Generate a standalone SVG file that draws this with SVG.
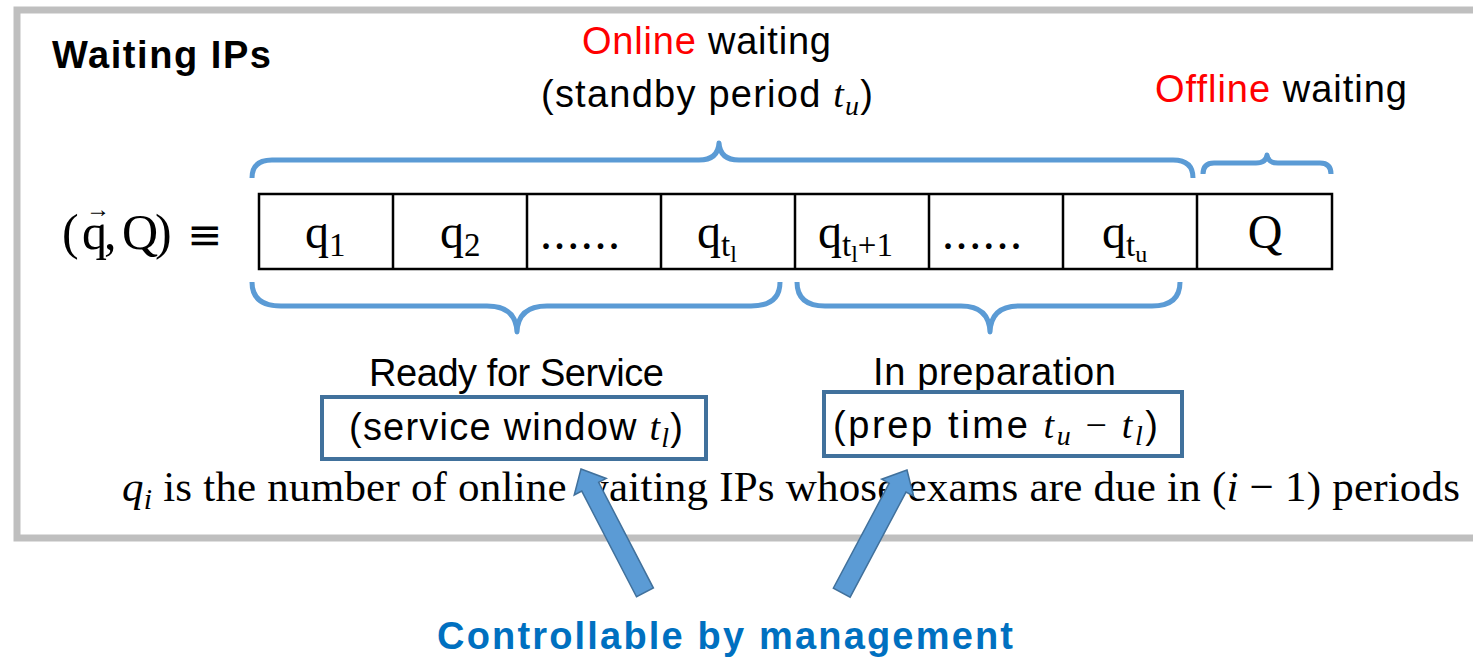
<svg xmlns="http://www.w3.org/2000/svg" width="1473" height="658" viewBox="0 0 1473 658">
<defs>
<style>
.sans{font-family:"Liberation Sans",Arial,sans-serif;font-size:38px;fill:#000}
.bold{font-weight:bold}
.red{fill:#FF0000}
.serif{font-family:"Liberation Serif","Times New Roman",serif;fill:#000}
.mi{font-family:"Liberation Serif","Times New Roman",serif;font-style:italic}
.brace{fill:none;stroke:#5B9BD5;stroke-width:5;stroke-linecap:butt;stroke-linejoin:round}
.cell{fill:none;stroke:#000;stroke-width:2.5}
.lbox{fill:#fff;stroke:#41719C;stroke-width:4}
.arrow{fill:#5B9BD5;stroke:#41719C;stroke-width:1.5;stroke-linejoin:miter}
</style>
</defs>
<rect id="frame" x="17" y="10" width="1480" height="528" fill="#fff" stroke="#BFBFBF" stroke-width="7"/>

<g id="title"><text class="sans bold" x="52" y="68" font-size="41" textLength="219">Waiting IPs</text></g>

<g id="online-label">
<text class="sans" x="582" y="54" textLength="249"><tspan class="red">Online</tspan> waiting</text>
<text class="sans" x="541" y="107" textLength="332">(standby period <tspan class="mi">t</tspan><tspan class="mi" font-size="28" dy="8">u</tspan><tspan dy="-8">)</tspan></text>
</g>
<g id="offline-label"><text class="sans" x="1155" y="102" textLength="252"><tspan class="red">Offline</tspan> waiting</text></g>

<g id="state">
<text class="serif" y="249" font-size="50"><tspan x="62">(</tspan><tspan x="82">q</tspan><tspan x="104">,</tspan><tspan x="122">Q</tspan><tspan x="155">)</tspan></text>
<text class="serif" x="86" y="217" font-size="24">→</text>
<text x="187" y="249" font-family="DejaVu Sans, sans-serif" font-size="42" fill="#000">≡</text>
</g>

<g id="cells">
<rect class="cell" x="259" y="194" width="1073" height="75"/>
<path class="cell" d="M393 194V269M527 194V269M661 194V269M795 194V269M929 194V269M1063 194V269M1197 194V269"/>
<text class="serif" x="305" y="248" font-size="48">q<tspan font-size="33" dy="8">1</tspan></text>
<text class="serif" x="440" y="248" font-size="48">q<tspan font-size="33" dy="8">2</tspan></text>
<text class="serif" x="540" y="249" font-size="48" textLength="80">......</text>
<text class="serif" x="697" y="248" font-size="48">q<tspan font-size="33" dy="8">t</tspan><tspan font-size="24" dy="6">l</tspan></text>
<text class="serif" x="818" y="248" font-size="48">q<tspan font-size="33" dy="8">t</tspan><tspan font-size="24" dy="6">l</tspan><tspan font-size="33" dy="-6">+1</tspan></text>
<text class="serif" x="942" y="249" font-size="48" textLength="80">......</text>
<text class="serif" x="1102" y="248" font-size="48">q<tspan font-size="33" dy="8">t</tspan><tspan font-size="24" dy="6">u</tspan></text>
<text class="serif" x="1265" y="248" font-size="48" text-anchor="middle">Q</text>
</g>

<g id="braces">
<path class="brace" d="M252 178Q252 160 272 160L699 160Q718 160 719 143Q720 160 739 160L1173 160Q1193 160 1193 178"/>
<path class="brace" d="M1203 174Q1203 163 1214 163L1256 163Q1266 163 1267 155Q1268 163 1278 163L1320 163Q1331 163 1331 174"/>
<path class="brace" d="M252 282Q252 306 281 306L487 306Q516 306 517 332Q518 306 547 306L751 306Q780 306 780 282"/>
<path class="brace" d="M797 282Q797 306 825 306L961 306Q989 306 990 332Q991 306 1019 306L1152 306Q1180 306 1180 282"/>
</g>

<g id="ready">
<text class="sans" x="369" y="386" textLength="295">Ready for Service</text>
<rect class="lbox" x="322" y="397" width="384" height="62"/>
<text class="sans" x="349" y="440" textLength="334">(service window <tspan class="mi">t</tspan><tspan class="mi" font-size="28" dy="7">l</tspan><tspan dy="-7">)</tspan></text>
</g>

<g id="prep">
<text class="sans" x="873" y="385" textLength="243">In preparation</text>
<rect class="lbox" x="824" y="392" width="358" height="64"/>
<text class="sans" x="833" y="438" textLength="325">(prep time <tspan class="mi">t</tspan><tspan class="mi" font-size="28" dy="7">u</tspan><tspan class="serif" dy="-7"> − </tspan><tspan class="mi">t</tspan><tspan class="mi" font-size="28" dy="7">l</tspan><tspan dy="-7">)</tspan></text>
</g>

<g id="definition">
<text class="serif" x="122" y="501" font-size="43" textLength="1338"><tspan class="mi">q</tspan><tspan class="mi" font-size="30" dy="8">i</tspan><tspan dy="-8"> is the number of online waiting IPs whose exams are due in (</tspan><tspan class="mi">i</tspan> − 1) periods</text>
</g>

<g id="connectors">
<polygon class="arrow" transform="translate(581,469) rotate(-27.4)" points="0,0 18,20 9.5,20 9.5,139 -9.5,139 -9.5,20 -18,20"/>
<polygon class="arrow" transform="translate(907,470) rotate(28)" points="0,0 18,20 9.5,20 9.5,139 -9.5,139 -9.5,20 -18,20"/>
</g>

<g id="controllable"><text class="sans bold" x="437" y="649" font-size="42" style="fill:#0070C0" textLength="576">Controllable by management</text></g>
</svg>
